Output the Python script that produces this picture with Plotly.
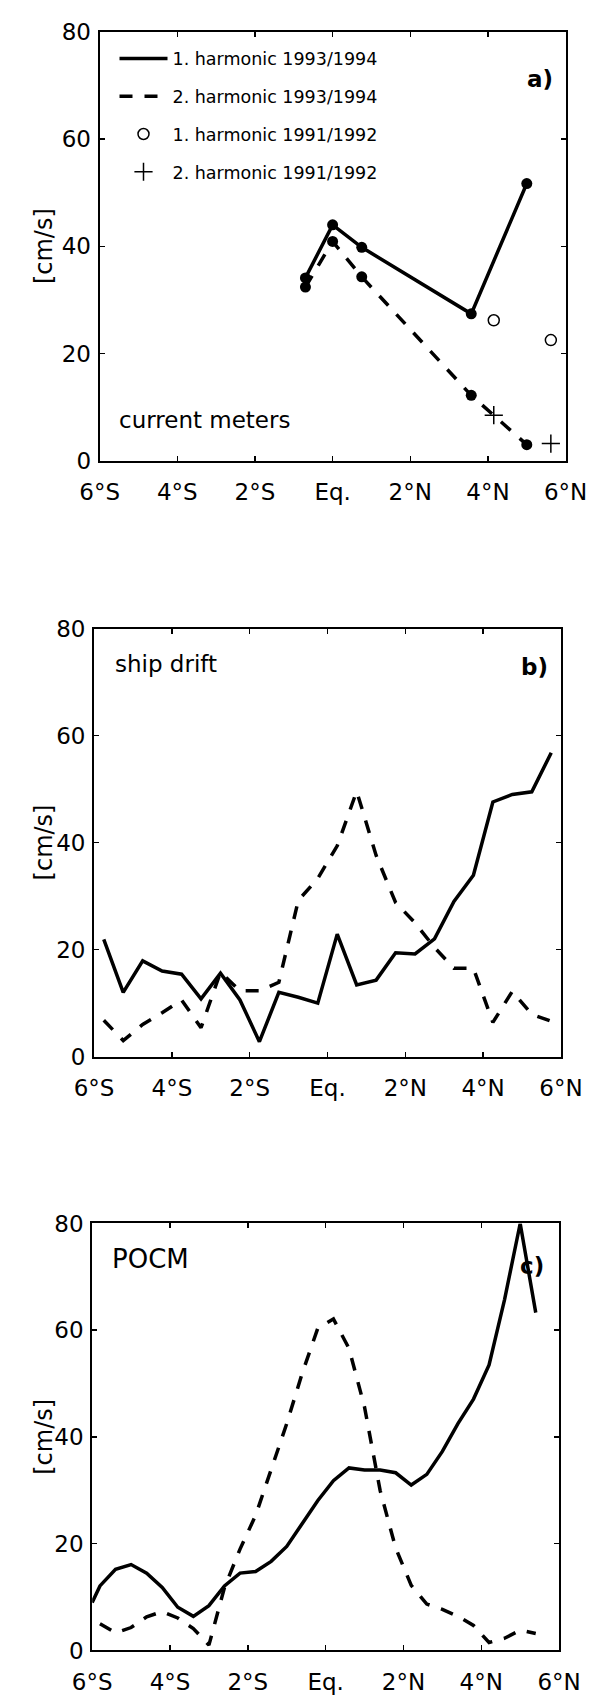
import plotly.graph_objects as go

# ---------------- data ----------------
lat_ticks = [-6, -4, -2, 0, 2, 4, 6]
lat_labels = ["6°S", "4°S", "2°S", "Eq.", "2°N", "4°N", "6°N"]
speed_ticks = [0, 20, 40, 60, 80]

# a) current meters
x_cm_9394 = [-0.7, 0.0, 0.75, 3.57, 5.0]
h1_9394 = [34.1, 44.0, 39.8, 27.4, 51.7]
h2_9394 = [32.4, 40.9, 34.3, 12.2, 3.0]
x_cm_9192 = [4.15, 5.62]
h1_9192 = [26.2, 22.5]
h2_9192 = [8.5, 3.2]

# b) ship drift
x_sd = [-5.75, -5.25, -4.75, -4.25, -3.75, -3.25, -2.75, -2.25, -1.75, -1.25, -0.75, -0.25,
        0.25, 0.75, 1.25, 1.75, 2.25, 2.75, 3.25, 3.75, 4.25, 4.75, 5.25, 5.75]
h1_sd = [21.9, 12.0, 17.9, 16.0, 15.4, 10.8, 15.6, 10.6, 2.8, 12.0, 11.1, 10.0,
         22.9, 13.4, 14.3, 19.4, 19.2, 22.0, 29.0, 33.9, 47.6, 49.0, 49.5, 56.8]
h2_sd = [6.8, 3.0, 6.0, 8.2, 10.6, 5.4, 15.8, 12.3, 12.3, 13.9, 29.2, 33.3,
         39.4, 49.6, 37.6, 28.8, 25.0, 20.4, 16.5, 16.5, 6.4, 12.2, 7.9, 6.6]

# c) POCM
x_pocm = [-6.0, -5.8, -5.4, -5.0, -4.6, -4.2, -3.8, -3.4, -3.0, -2.6, -2.2, -1.8, -1.4, -1.0, -0.6,
          -0.2, 0.2, 0.6, 1.0, 1.4, 1.8, 2.2, 2.6, 3.0, 3.4, 3.8, 4.2, 4.6, 5.0, 5.4]
h1_pocm = [9.0, 12.1, 15.2, 16.1, 14.5, 11.8, 8.1, 6.4, 8.4, 12.1, 14.5, 14.8, 16.7, 19.5, 23.8,
           28.1, 31.8, 34.2, 33.8, 33.8, 33.3, 31.0, 33.0, 37.3, 42.5, 47.1, 53.5, 65.8, 80.0, 63.3]
h2_pocm = [None, 5.0, 3.3, 4.3, 6.3, 7.3, 6.1, 4.1, 1.0, 11.8, 19.0, 25.3, 33.9, 42.5, 52.0,
           60.4, 62.1, 56.6, 45.6, 30.0, 19.2, 12.2, 8.7, 7.7, 6.4, 4.7, 1.5, 2.3, 3.8, 3.2]

# ---------------- layout helpers ----------------
FONT = "DejaVu Sans"
OFF = 8          # default page body margin
W, H = 601, 1687


def fx(p):
    return (p - OFF) / W


def fy(p):
    return 1 - (p - OFF) / H


boxes = [  # left, right, top, bottom in page pixels
    (85, 586, 19, 456),
    (79, 581, 627, 1063),
    (77, 579, 1233, 1668),
]

LW = 3.5
DASH = "13px,12px"
solid = dict(color="black", width=LW)
dashed = dict(color="black", width=LW, dash=DASH)

fig = go.Figure()

# panel a
fig.add_trace(go.Scatter(x=x_cm_9394, y=h1_9394, mode="lines", line=solid,
                         name="1. harmonic 1993/1994", legendgroup="g1", xaxis="x", yaxis="y"))
fig.add_trace(go.Scatter(x=x_cm_9394, y=h2_9394, mode="lines", line=dashed,
                         name="2. harmonic 1993/1994", legendgroup="g2", xaxis="x", yaxis="y"))
fig.add_trace(go.Scatter(x=x_cm_9192, y=h1_9192, mode="markers",
                         marker=dict(symbol="circle-open", size=11, color="black", line=dict(width=1.5)),
                         name="1. harmonic 1991/1992", legendgroup="g3", xaxis="x", yaxis="y"))
fig.add_trace(go.Scatter(x=x_cm_9192, y=h2_9192, mode="markers",
                         marker=dict(symbol="cross-thin-open", size=13, color="black",
                                     line=dict(width=1.5, color="black")),
                         name="2. harmonic 1991/1992", legendgroup="g4", xaxis="x", yaxis="y"))
fig.add_trace(go.Scatter(x=x_cm_9394, y=h1_9394, mode="markers", showlegend=False,
                         marker=dict(symbol="circle", size=11, color="black"), xaxis="x", yaxis="y"))
fig.add_trace(go.Scatter(x=x_cm_9394, y=h2_9394, mode="markers", showlegend=False,
                         marker=dict(symbol="circle", size=11, color="black"), xaxis="x", yaxis="y"))

# panel b
fig.add_trace(go.Scatter(x=x_sd, y=h1_sd, mode="lines", line=solid, showlegend=False,
                         xaxis="x2", yaxis="y2"))
fig.add_trace(go.Scatter(x=x_sd, y=h2_sd, mode="lines", line=dashed, showlegend=False,
                         xaxis="x2", yaxis="y2"))

# panel c
fig.add_trace(go.Scatter(x=x_pocm, y=h2_pocm, mode="lines", line=dashed, showlegend=False,
                         xaxis="x3", yaxis="y3"))
fig.add_trace(go.Scatter(x=x_pocm, y=h1_pocm, mode="lines", line=solid, showlegend=False,
                         xaxis="x3", yaxis="y3"))

tickfont = dict(family=FONT, size=23, color="black")
common = dict(showline=True, linecolor="black", linewidth=2, mirror="ticks", ticks="inside",
              ticklen=5, tickwidth=1.5, tickcolor="black", showgrid=False, zeroline=False,
              tickfont=tickfont, fixedrange=True)

layout = dict(width=W, height=H, autosize=False, margin=dict(l=0, r=0, t=0, b=0),
              paper_bgcolor="white", plot_bgcolor="white",
              font=dict(family=FONT, color="black"))

annotations = []
labels = ["a)", "b)", "c)"]
label_pos = [(575, 67), (569, 666), (565, 1276)]
texts = [("current meters", 104, 414, 23), ("ship drift", 99, 663, 23), ("POCM", 96, 1269, 26)]
for i, (L, R, T, B) in enumerate(boxes):
    sfx = "" if i == 0 else str(i + 1)
    layout["xaxis" + sfx] = dict(common, domain=[fx(L), fx(R)], range=[-6, 6],
                                 tickvals=lat_ticks, ticktext=lat_labels,
                                 ticklabelstandoff=10, anchor="y" + sfx)
    layout["yaxis" + sfx] = dict(common, domain=[fy(B), fy(T)], range=[0, 80],
                                 tickvals=speed_ticks, ticklabelstandoff=2, anchor="x" + sfx)
    annotations.append(dict(text="[cm/s]", textangle=-90, xref="paper", yref="paper",
                            x=fx(25), y=fy((T + B) / 2), xanchor="center", yanchor="middle",
                            showarrow=False, font=dict(family=FONT, size=24, color="black")))
    lx, ly = label_pos[i]
    annotations.append(dict(text="<b>%s</b>" % labels[i], xref="paper", yref="paper",
                            x=fx(lx), y=fy(ly), xanchor="right", yanchor="middle",
                            showarrow=False, font=dict(family=FONT, size=23, color="black")))
    t, tx, ty, ts = texts[i]
    annotations.append(dict(text=t, xref="paper", yref="paper", x=fx(tx), y=fy(ty),
                            xanchor="left", yanchor="middle", showarrow=False,
                            font=dict(family=FONT, size=ts, color="black")))

layout["annotations"] = annotations
layout["legend"] = dict(x=fx(101), y=fy(28), xanchor="left", yanchor="top",
                        font=dict(family=FONT, size=17.5, color="black"),
                        bgcolor="rgba(0,0,0,0)", borderwidth=0, itemwidth=48,
                        traceorder="grouped", tracegroupgap=12)
layout["showlegend"] = True

fig.update_layout(**layout)
fig.write_html("out.html", config={"displayModeBar": False, "staticPlot": True})
